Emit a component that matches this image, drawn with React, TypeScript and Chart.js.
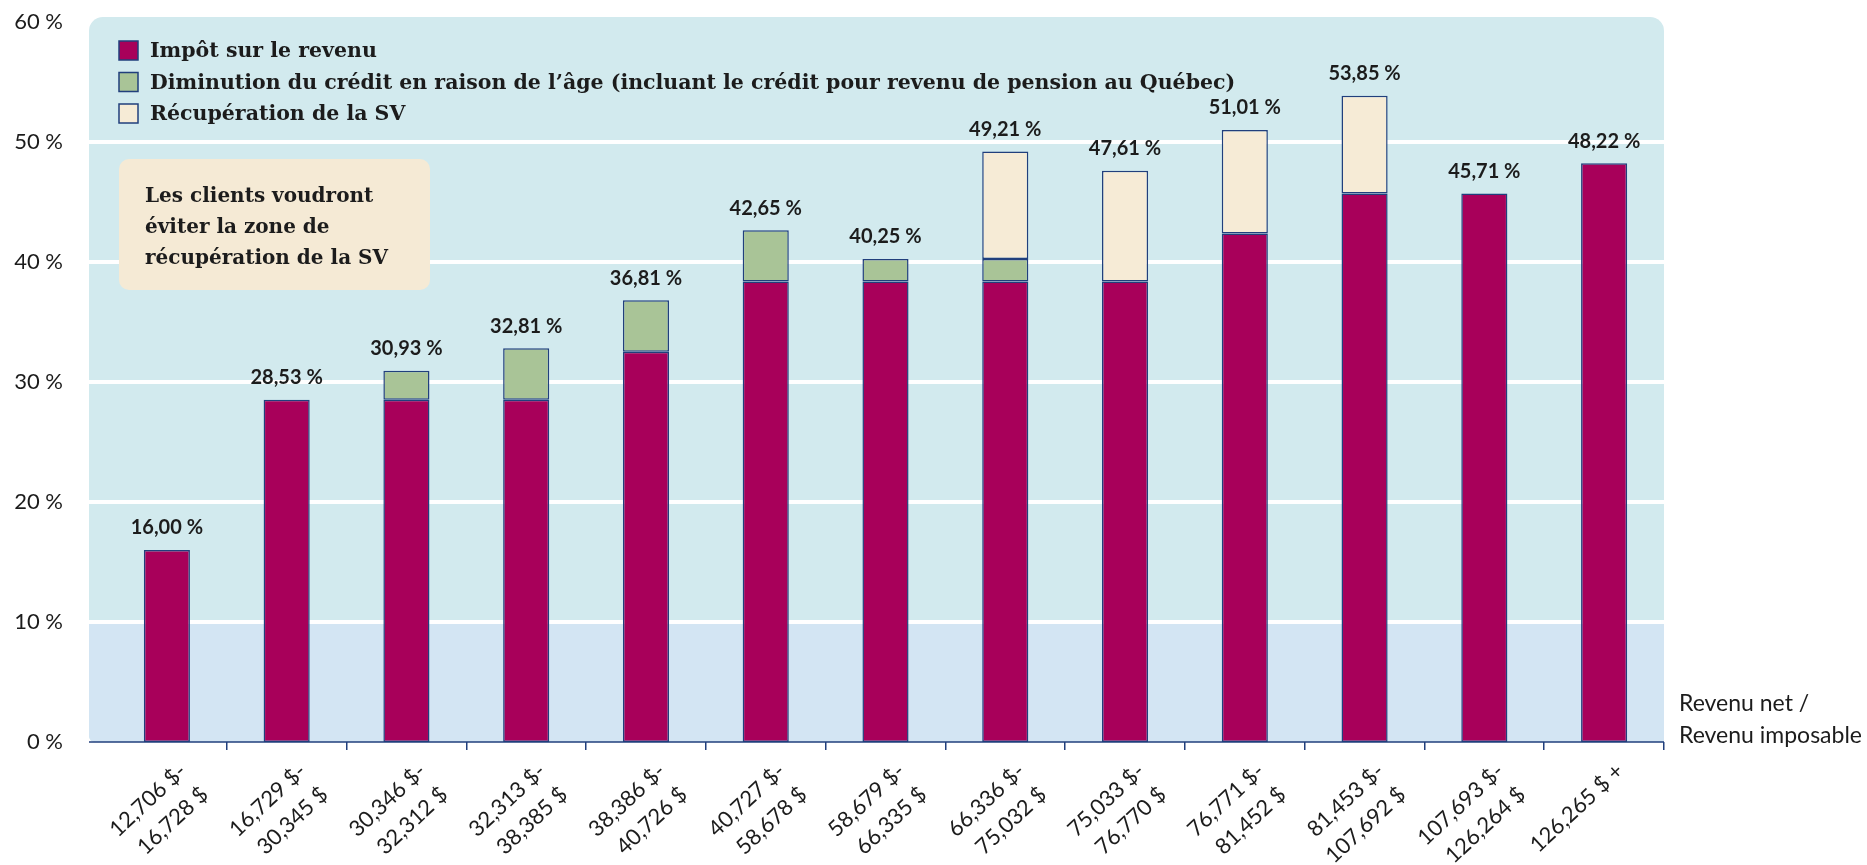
import React, { useEffect, useRef } from "react";
import { Chart, registerables } from "chart.js";

Chart.register(...registerables);

// ---------- data ----------
const categories: string[][] = [
  ["12,706 $-", "16,728 $"],
  ["16,729 $-", "30,345 $"],
  ["30,346 $-", "32,312 $"],
  ["32,313 $-", "38,385 $"],
  ["38,386 $-", "40,726 $"],
  ["40,727 $-", "58,678 $"],
  ["58,679 $-", "66,335 $"],
  ["66,336 $-", "75,032 $"],
  ["75,033 $-", "76,770 $"],
  ["76,771 $-", "81,452 $"],
  ["81,453 $-", "107,692 $"],
  ["107,693 $-", "126,264 $"],
  ["126,265 $ +"],
];

const seriesNames = [
  "Impôt sur le revenu",
  "Diminution du crédit en raison de l’âge (incluant le crédit pour revenu de pension au Québec)",
  "Récupération de la SV",
];

const impot: (number | null)[] = [16.0, 28.53, 28.53, 28.53, 32.53, 38.37, 38.37, 38.37, 38.37, 42.37, 45.71, 45.71, 48.22];
const diminution: (number | null)[] = [null, null, 2.4, 4.28, 4.28, 4.28, 1.88, 1.88, null, null, null, null, null];
const recuperation: (number | null)[] = [null, null, null, null, null, null, null, 8.96, 9.24, 8.64, 8.14, null, null];

const totalLabels = ["16,00 %", "28,53 %", "30,93 %", "32,81 %", "36,81 %", "42,65 %", "40,25 %", "49,21 %", "47,61 %", "51,01 %", "53,85 %", "45,71 %", "48,22 %"];

const yMin = 0;
const yMax = 60;
const yStep = 10;
const gridValues = [10, 20, 30, 40, 50];
const bandTop = 10;

const noteLines = ["Les clients voudront", "éviter la zone de", "récupération de la SV"];
const axisTitleLines = ["Revenu net /", "Revenu imposable"];

// ---------- styles ----------
const C = {
  impot: "#a8005a",
  green: "#a9c497",
  cream: "#f6ebd6",
  border: "#213f7c",
  panel: "#d2eaee",
  band: "#d3e5f3",
  note: "#f5ead5",
  text: "#1c1c1c",
};

const SANS = "Lato, 'Open Sans', sans-serif";
const SERIF = "'DejaVu Serif', serif";

const panelPlugin = {
  id: "panelBg",
  beforeDraw(chart: any) {
    const { ctx, chartArea, scales } = chart;
    const y = scales.y;
    const left = chartArea.left - 18;
    const right = chartArea.right;
    const top = y.getPixelForValue(yMax) - 5;
    const bottom = chartArea.bottom;
    const yBand = y.getPixelForValue(bandTop);
    ctx.save();
    ctx.beginPath();
    ctx.roundRect(left, top, right - left, bottom - top, [14, 14, 0, 6]);
    ctx.fillStyle = C.panel;
    ctx.fill();
    ctx.clip();
    ctx.fillStyle = C.band;
    ctx.fillRect(left, yBand, right - left, bottom - yBand);
    ctx.restore();

    ctx.save();
    ctx.strokeStyle = "#ffffff";
    ctx.lineWidth = 4;
    for (const v of gridValues) {
      const py = Math.round(y.getPixelForValue(v));
      ctx.beginPath();
      ctx.moveTo(left, py);
      ctx.lineTo(right, py);
      ctx.stroke();
    }
    ctx.restore();
  },
};

const overlayPlugin = {
  id: "overlay",
  afterDatasetsDraw(chart: any) {
    const { ctx, chartArea } = chart;
    const left = chartArea.left - 18;
    const right = chartArea.right;
    const bottom = chartArea.bottom;

    // axis line
    ctx.save();
    ctx.strokeStyle = C.border;
    ctx.lineWidth = 1.5;
    ctx.beginPath();
    ctx.moveTo(left, bottom);
    ctx.lineTo(right, bottom);
    ctx.stroke();
    ctx.restore();

    // total labels
    ctx.save();
    ctx.font = `bold 20px ${SANS}`;
    ctx.fillStyle = C.text;
    ctx.textAlign = "center";
    ctx.textBaseline = "middle";
    const n = chart.data.labels.length;
    for (let i = 0; i < n; i++) {
      let el: any = null;
      for (let d = chart.data.datasets.length - 1; d >= 0; d--) {
        const v = chart.data.datasets[d].data[i];
        if (v !== null && v !== undefined) {
          el = chart.getDatasetMeta(d).data[i];
          break;
        }
      }
      if (el) ctx.fillText(totalLabels[i], el.x, el.y - 22);
    }
    ctx.restore();

    // legend
    ctx.save();
    ctx.font = `bold 20.5px ${SERIF}`;
    ctx.textBaseline = "middle";
    ctx.textAlign = "left";
    chart.data.datasets.forEach((ds: any, i: number) => {
      const cy = 51 + i * 31.5;
      ctx.fillStyle = ds.backgroundColor;
      ctx.fillRect(119, cy - 10, 19, 19);
      ctx.strokeStyle = C.border;
      ctx.lineWidth = 1.5;
      ctx.strokeRect(119, cy - 10, 19, 19);
      ctx.fillStyle = C.text;
      ctx.fillText(ds.label, 150, cy + 1);
    });
    ctx.restore();

    // note box
    ctx.save();
    ctx.beginPath();
    ctx.roundRect(119, 159, 311, 131, 10);
    ctx.fillStyle = C.note;
    ctx.fill();
    ctx.font = `bold 20px ${SERIF}`;
    ctx.fillStyle = C.text;
    ctx.textBaseline = "alphabetic";
    ctx.textAlign = "left";
    noteLines.forEach((t, i) => ctx.fillText(t, 145, 202 + i * 31));
    ctx.restore();

    // axis title at right
    ctx.save();
    ctx.font = `23px ${SANS}`;
    ctx.fillStyle = C.text;
    ctx.textAlign = "left";
    ctx.textBaseline = "alphabetic";
    axisTitleLines.forEach((t, i) => ctx.fillText(t, 1679, 711 + i * 32));
    ctx.restore();
  },
};

export default function App() {
  const ref = useRef<HTMLCanvasElement | null>(null);

  useEffect(() => {
    if (!ref.current) return;
    const common = {
      borderColor: C.border,
      borderWidth: 1.5,
      borderSkipped: false as const,
      barPercentage: 0.385,
      categoryPercentage: 1,
    };
    const chart = new Chart(ref.current, {
      type: "bar",
      data: {
        labels: categories,
        datasets: [
          { label: seriesNames[0], data: impot, backgroundColor: C.impot, ...common },
          { label: seriesNames[1], data: diminution, backgroundColor: C.green, ...common },
          { label: seriesNames[2], data: recuperation, backgroundColor: C.cream, ...common },
        ],
      },
      options: {
        animation: false,
        responsive: true,
        maintainAspectRatio: false,
        layout: { padding: { top: 22, right: 203, left: 0, bottom: 0 } },
        plugins: { legend: { display: false }, tooltip: { enabled: false } },
        scales: {
          x: {
            stacked: true,
            offset: true,
            grid: {
              offset: true,
              drawOnChartArea: false,
              drawTicks: true,
              tickLength: 8,
              lineWidth: 1.5,
              color: (c: any) => (c.index === 0 ? "rgba(0,0,0,0)" : C.border),
            },
            border: { display: false },
            ticks: {
              autoSkip: false,
              maxRotation: 43,
              minRotation: 43,
              padding: 6,
              labelOffset: 16,
              color: C.text,
              font: { family: SANS, size: 22, lineHeight: 1.45 },
            },
            afterFit: (s: any) => {
              s.height = 123;
            },
          },
          y: {
            stacked: true,
            min: yMin,
            max: yMax,
            grid: { display: false, drawTicks: true, tickLength: 44 },
            border: { display: false },
            ticks: {
              stepSize: yStep,
              padding: 0,
              color: C.text,
              font: { family: SANS, size: 22 },
              callback: (v: any) => `${v} %`,
            },
            afterFit: (s: any) => {
              s.width = 107;
            },
          },
        },
      },
      plugins: [panelPlugin, overlayPlugin],
    });
    return () => chart.destroy();
  }, []);

  return (
    <div style={{ position: "fixed", left: 0, top: 0, width: 1867, height: 865, background: "#fff" }}>
      <canvas ref={ref} />
    </div>
  );
}
